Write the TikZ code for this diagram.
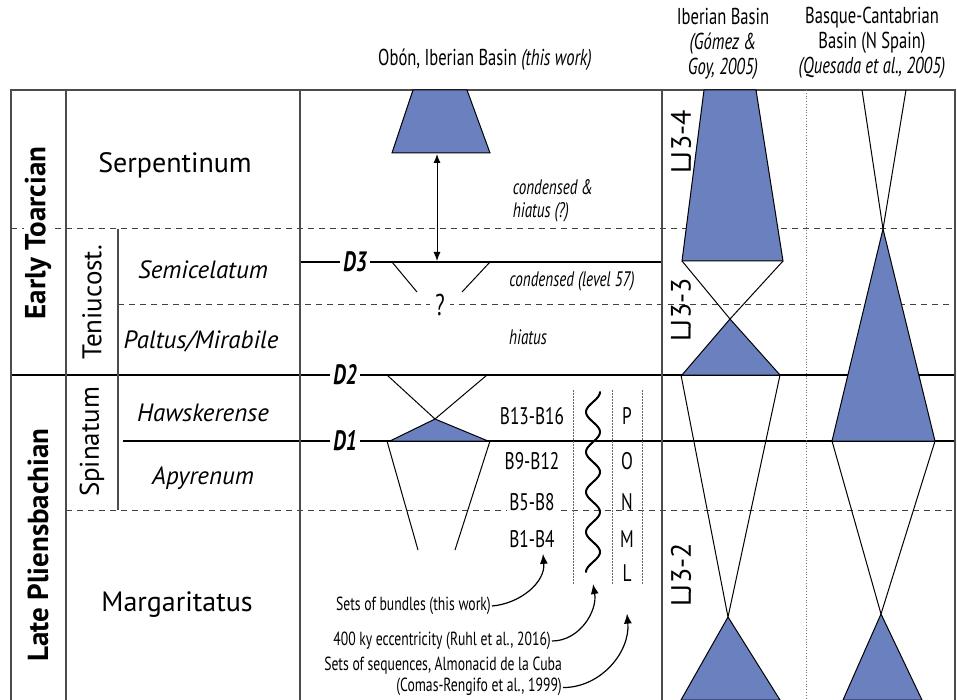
\documentclass[tikz,border=0pt]{standalone}
\usepackage{fontspec}
\setmainfont{PT Sans}
\newfontfamily\condfont{PT Sans}[FakeStretch=0.72]
\usetikzlibrary{arrows.meta}

\definecolor{seqblue}{HTML}{6B80BF}

\tikzset{
  frame/.style={draw=black!70, line width=1.2pt},
  bound/.style={draw=black, line width=1.6pt},
  zoneline/.style={draw=black!75, line width=1pt, dash pattern=on 6pt off 5pt},
  divline/.style={draw=black!60, line width=0.8pt, dash pattern=on 1.5pt off 1.5pt},
  seq/.style={draw=black, line width=1pt},
  seqfill/.style={seq, fill=seqblue},
  stage/.style={font=\fontsize{29}{29}\selectfont\bfseries, rotate=90, fill=white, inner sep=1pt},
  zonev/.style={font=\fontsize{27}{27}\selectfont, rotate=90},
  zonebig/.style={font=\fontsize{28}{28}\selectfont},
  zoneit/.style={font=\fontsize{25}{25}\selectfont\itshape},
  head/.style={font=\condfont\fontsize{23}{25}\selectfont, align=center},
  dlabel/.style={font=\condfont\fontsize{28}{28}\selectfont\bfseries\itshape, fill=white, inner sep=3pt},
  remark/.style={font=\condfont\fontsize{21}{23}\selectfont\itshape, align=left},
  bundle/.style={font=\condfont\fontsize{24}{24}\selectfont, fill=white, inner sep=2pt},
  note/.style={font=\condfont\fontsize{19}{21}\selectfont, align=right, inner sep=1pt},
  ljlabel/.style={font=\fontsize{28}{28}\selectfont, rotate=90},
  callout/.style={-{Latex[length=10pt,width=8pt]}, line width=1.2pt},
}

\begin{document}
\begin{tikzpicture}[x=1pt, y=-1pt]
  \useasboundingbox (0,0) rectangle (957,700);

  % zone boundaries
  \draw[zoneline] (11,229) -- (955,229);
  \draw[zoneline] (118,304) -- (955,304);
  \draw[zoneline] (66,510) -- (955,510);
  \draw[bound] (11,375) -- (955,375);
  \draw[bound] (123,441) -- (955,441);
  \draw[bound] (300,262) -- (662,262);

  % frame
  \draw[frame] (11,700) -- (11,90) -- (955,90) -- (955,700);
  \draw[frame] (66,90) -- (66,700);
  \draw[frame] (300,90) -- (300,700);
  \draw[frame] (662,90) -- (662,700);
  \draw[frame] (118,229) -- (118,510);
  \draw[dotted, black!55, line width=0.8pt] (806,90) -- (806,700);

  % stages and zones
  \node[stage] (toarc) at (38,233) {Early Toarcian};
  \node[stage] (plien) at (38,545) {Late Pliensbachian};
  \node[zonev] (tenu) at (92,302) {Teniucost.};
  \node[zonev] (spin) at (92,442) {Spinatum};
  \node[zonebig] (serp) at (175,165) {Serpentinum};
  \node[zoneit] (semi) at (203,270) {Semicelatum};
  \node[zoneit] (palt) at (201,341) {Paltus/Mirabile};
  \node[zoneit] (hawk) at (203,413) {Hawskerense};
  \node[zoneit] (apyr) at (203,478) {Apyrenum};
  \node[zonebig] (marg) at (177,605) {Margaritatus};

  % column heads
  \node[head] (obon) at (485,60) {Obón, Iberian Basin \textit{(this work)}};
  \node[head] (iber) at (723,44) {Iberian Basin\\\textit{(Gómez \&}\\\textit{Goy, 2005)}};
  \node[head] (basq) at (872,43) {Basque-Cantabrian\\Basin (N Spain)\\\textit{(Quesada et al., 2005)}};

  % Obon column
  \draw[seqfill] (413,90) -- (467,90) -- (490,153) -- (392,153) -- cycle;
  \coordinate (topbase) at (437,154);
  \coordinate (dthree) at (437,261);
  \draw[{Latex[length=9pt,width=7pt]}-{Latex[length=9pt,width=7pt]}, line width=1pt] (topbase) -- (dthree);
  \draw[seq] (392,262) -- (417,292);
  \draw[seq] (490,262) -- (462,292);
  \node[fill=white, font=\condfont\fontsize{30}{30}\selectfont, inner sep=5pt] (quest) at (440,305) {?};
  \draw[seq] (387,375) -- (435,419) -- (487,375);
  \draw[seqfill] (435,419) -- (488,441) -- (390,441) -- cycle;
  \draw[seq] (387,441) -- (418,550);
  \draw[seq] (490,441) -- (455,550);
  \node[dlabel] (d3) at (355,262) {D3};
  \node[dlabel] (d2) at (345,375) {D2};
  \node[dlabel] (d1) at (345,441) {D1};
  \node[remark] (cond) at (553,201) {condensed \&\\hiatus (?)};
  \node[remark] (lev) at (572,281) {condensed (level 57)};
  \node[remark] (hiat) at (528,337) {hiatus};

  % bundles and sequences
  \draw[divline] (573,390) -- (573,585);
  \draw[divline] (612,390) -- (612,585);
  \draw[divline] (642,390) -- (642,585);
  \node[bundle] (b4) at (532,416) {B13-B16};
  \node[bundle] (b3) at (532,461) {B9-B12};
  \node[bundle] (b2) at (532,502) {B5-B8};
  \node[bundle] (b1) at (532,539) {B1-B4};
  \foreach \lt/\ly in {P/416, O/461, N/502, M/539, L/573}
    \node[bundle, fill=none] (seq\lt) at (627,\ly) {\lt};
  \draw[line width=2pt, line cap=round] plot[domain=0:180, samples=120] ({593-7*sin(\x*9-90)},{392+\x});
  \coordinate (waveend) at (593,584);

  \node[note, anchor=east] (nbund) at (492,606) {Sets of bundles (this work)};
  \node[note, anchor=east] (necc) at (552,641) {400 ky eccentricity (Ruhl et al., 2016)};
  \node[note, anchor=north east] (nseq) at (563,656) {Sets of sequences, Almonacid de la Cuba\\(Comas-Rengifo et al., 1999)};
  \draw[callout] (nbund.east) to[out=5, in=-85] ([xshift=11pt, yshift=-4pt]b1.south);
  \draw[callout] (necc.east) to[out=0, in=-80] (waveend);
  \draw[callout] ([yshift=-11pt]nseq.east) to[out=0, in=-85] ([yshift=-30pt]seqL.south);

  % Iberian Basin column
  \draw[seqfill] (704,90) -- (756,90) -- (783,261) -- (682,261) -- cycle;
  \draw[seq] (682,261) -- (730,319) -- (783,261);
  \draw[seqfill] (730,319) -- (780,375) -- (682,375) -- cycle;
  \draw[seq] (681,375) -- (728,617) -- (780,375);
  \draw[seqfill] (728,617) -- (780,700) -- (681,700) -- cycle;
  \node[ljlabel] (lj4) at (681,142) {LJ3-4};
  \node[ljlabel] (lj3) at (681,310) {LJ3-3};
  \node[ljlabel] (lj2) at (681,575) {LJ3-2};

  % Basque-Cantabrian column
  \draw[seq] (862,90) -- (883,229) -- (906,90);
  \draw[seqfill] (883,229) -- (935,441) -- (832,441) -- cycle;
  \draw[seq] (832,441) -- (881,614) -- (935,441);
  \draw[seqfill] (881,614) -- (922,700) -- (843,700) -- cycle;
\end{tikzpicture}
\end{document}
